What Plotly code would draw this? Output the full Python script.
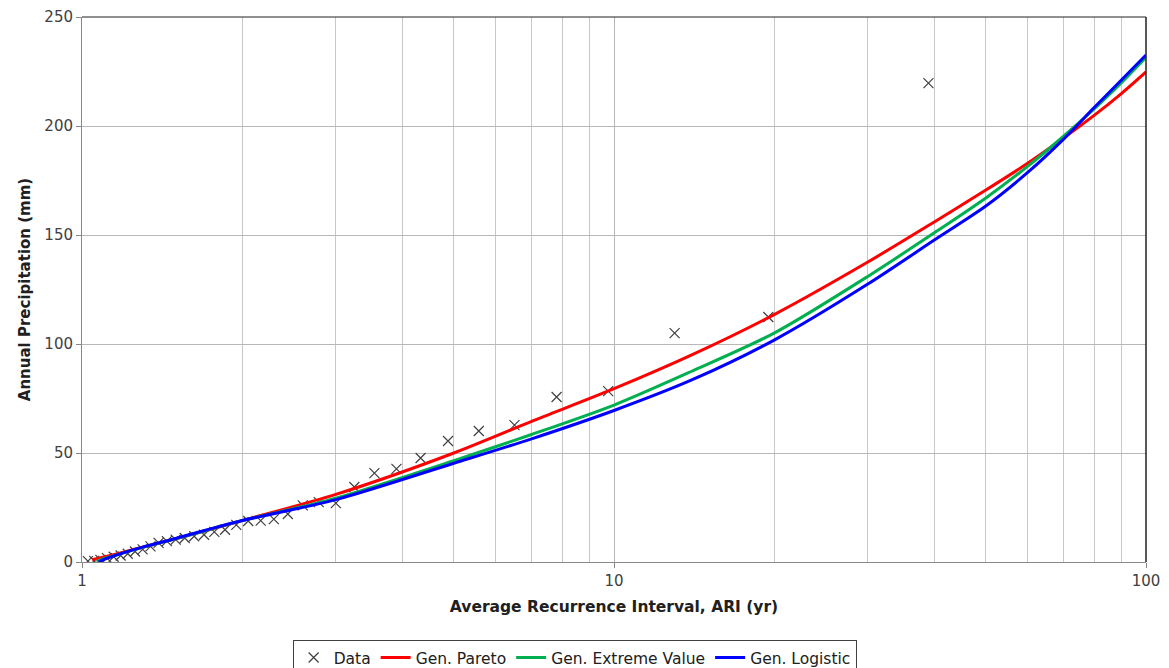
import plotly.graph_objects as go

# Observed data (ARI in years, annual precipitation in mm)
data_ari = [39.0, 19.5, 13.0, 9.75, 7.8, 6.5, 5.57, 4.875, 4.33, 3.9, 3.545, 3.25,
            3.0, 2.786, 2.6, 2.4375, 2.294, 2.167, 2.053, 1.95, 1.857, 1.773, 1.696,
            1.625, 1.56, 1.5, 1.444, 1.393, 1.345, 1.3, 1.258, 1.219, 1.182, 1.147,
            1.114, 1.083, 1.054, 1.026]
data_mm = [219.7, 112.4, 105.0, 78.4, 75.7, 62.8, 60.1, 55.5, 47.7, 42.7, 40.8, 34.4,
           27.0, 27.5, 26.0, 22.0, 19.7, 19.0, 18.8, 17.0, 14.8, 13.8, 12.5,
           11.8, 11.0, 10.3, 9.6, 8.8, 7.2, 5.8, 4.8, 3.8, 3.0, 2.4,
           1.8, 1.0, 0.5, 0.4]

# Fitted distributions
gp_ari = [1.045, 1.1, 1.2, 1.3, 1.5, 2.0, 3.0, 5.0, 7.0, 10.0, 14.0, 20.0, 30.0, 40.0, 50.0, 60.0, 70.0, 80.0, 90.0, 100.0]
gp_mm = [1.0, 2.3, 4.6, 6.8, 10.6, 19.0, 31.0, 50.0, 64.5, 79.5, 95.0, 113.5, 137.6, 156.0, 170.6, 183.0, 194.5, 205.0, 215.0, 224.8]

gev_ari = [1.065, 1.1, 1.2, 1.3, 1.5, 2.0, 3.0, 5.0, 7.0, 10.0, 14.0, 20.0, 30.0, 40.0, 50.0, 60.0, 70.0, 80.0, 90.0, 100.0]
gev_mm = [0.3, 1.6, 4.3, 6.7, 10.6, 19.0, 29.3, 46.5, 58.5, 72.0, 87.5, 105.0, 131.0, 151.0, 167.0, 181.6, 195.3, 208.0, 220.0, 231.5]

glo_ari = [1.075, 1.1, 1.2, 1.3, 1.5, 2.0, 3.0, 5.0, 7.0, 10.0, 14.0, 20.0, 30.0, 40.0, 50.0, 60.0, 70.0, 80.0, 90.0, 100.0]
glo_mm = [0.0, 1.2, 4.3, 6.8, 10.8, 19.0, 28.6, 45.3, 56.5, 69.5, 83.5, 101.8, 127.5, 147.7, 163.3, 178.8, 194.0, 208.6, 221.2, 232.6]

x_tickvals = [1, 10, 100]
x_ticktext = ["1", "10", "100"]
y_tickvals = [0, 50, 100, 150, 200, 250]

FONT = "'DejaVu Sans', sans-serif"

fig = go.Figure()
fig.add_trace(go.Scatter(x=data_ari, y=data_mm, mode="markers", name="Data",
                         marker=dict(symbol="x-thin-open", size=10, color="#404040",
                                     line=dict(width=1.2, color="#404040"))))
fig.add_trace(go.Scatter(x=gp_ari, y=gp_mm, mode="lines", name="Gen. Pareto",
                         line=dict(color="#FF0000", width=3, shape="spline", smoothing=0.8)))
fig.add_trace(go.Scatter(x=gev_ari, y=gev_mm, mode="lines", name="Gen. Extreme Value",
                         line=dict(color="#00B050", width=3, shape="spline", smoothing=0.8)))
fig.add_trace(go.Scatter(x=glo_ari, y=glo_mm, mode="lines", name="Gen. Logistic",
                         line=dict(color="#0000FF", width=3, shape="spline", smoothing=0.8)))

# page body has an 8px margin: figure spans page (8,8)-(1169,668)
fig.update_layout(
    width=1161, height=660,
    margin=dict(l=74, r=23, t=9, b=106, autoexpand=False),
    paper_bgcolor="white", plot_bgcolor="white",
    font=dict(family=FONT, size=15, color="#404040"),
    showlegend=True,
    legend=dict(orientation="h", x=0.463, xanchor="center", y=-0.143, yanchor="top",
                bordercolor="#404040", borderwidth=1, bgcolor="white",
                font=dict(family=FONT, size=15.5, color="#202020"),
                itemwidth=30, traceorder="normal"),
)
fig.update_xaxes(
    type="log", range=[0, 2], automargin=False,
    tickvals=x_tickvals, ticktext=x_ticktext,
    showgrid=True, gridcolor="#B8B8B8", gridwidth=1,
    minor=dict(dtick="D1", showgrid=True, gridcolor="#C8C8C8", gridwidth=1),
    showline=True, linecolor="#888888", linewidth=1,
    ticks="outside", ticklen=5, tickcolor="#888888",
    zeroline=False,
    title=dict(text="<b>Average Recurrence Interval, ARI (yr)</b>", standoff=12,
               font=dict(family=FONT, size=15.5, color="#202020")),
)
fig.update_yaxes(
    range=[0, 250], tickvals=y_tickvals, automargin=False,
    showgrid=True, gridcolor="#B8B8B8", gridwidth=1,
    showline=True, linecolor="#888888", linewidth=1,
    ticks="outside", ticklen=5, tickcolor="#888888",
    zeroline=False,
    title=dict(text="<b>Annual Precipitation (mm)</b>", standoff=10,
               font=dict(family=FONT, size=15, color="#202020")),
)
# top and right frame
fig.add_shape(type="line", xref="paper", yref="paper", x0=0, x1=1, y0=1, y1=1,
              line=dict(color="#202020", width=1))
fig.add_shape(type="line", xref="paper", yref="paper", x0=1, x1=1, y0=0, y1=1,
              line=dict(color="#202020", width=1.5))

fig.write_html("out.html")
